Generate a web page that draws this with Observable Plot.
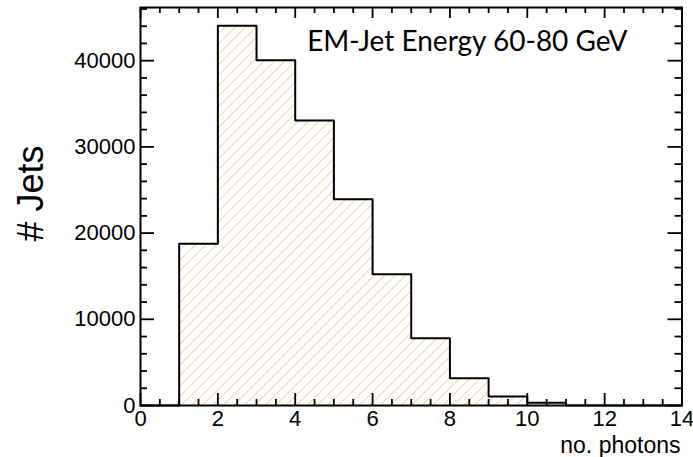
<!DOCTYPE html>
<html><head><meta charset="utf-8">
<script src="https://cdn.jsdelivr.net/npm/d3@7"></script>
<script src="https://cdn.jsdelivr.net/npm/@observablehq/plot@0.6"></script>
<style>body{margin:0;background:#fff} svg{display:block}</style>
</head><body><div id="chart"></div>
<script>
const binEdges = [0,1,2,3,4,5,6,7,8,9,10,11,12,13,14];
const binCounts = [0,18760,44050,40050,33060,23930,15230,7810,3170,1040,310,0,0,0];
const xMajorTicks = [0,2,4,6,8,10,12,14];
const xMinorTicks = [0.5,1,1.5,2.5,3,3.5,4.5,5,5.5,6.5,7,7.5,8.5,9,9.5,10.5,11,11.5,12.5,13,13.5];
const yMajorTicks = [0,10000,20000,30000,40000];
const yMinorTicks = [2000,4000,6000,8000,12000,14000,16000,18000,22000,24000,26000,28000,32000,34000,36000,38000,42000,44000,46000];
const yMax = 46170;
const title = "EM-Jet Energy 60-80 GeV";
const xLabel = "no. photons";
const yLabel = "# Jets";

const W = 693, H = 457, mL = 140, mR = 11.5, mT = 7, mB = 52;
const pw = W - mL - mR, ph = H - mT - mB;

const bins = binCounts.map((c, i) => ({x1: binEdges[i], x2: binEdges[i+1], n: c})).filter(d => d.n > 0);
const steps = binCounts.map((c, i) => ({x: binEdges[i], n: c})).concat([{x: binEdges[binEdges.length-1], n: 0}]);

const font = "'Liberation Sans', Arial, sans-serif";
const svg = Plot.plot({
  width: W, height: H,
  marginLeft: mL, marginRight: mR, marginTop: mT, marginBottom: mB,
  style: {fontFamily: font, fontSize: "22px", background: "#fff", color: "#000"},
  x: {domain: [0, 14], axis: null},
  y: {domain: [0, yMax], axis: null},
  marks: [
    Plot.rectY(bins, {x1: "x1", x2: "x2", y: "n", fill: "url(#hatch)"}),
    Plot.line(steps, {x: "x", y: "n", curve: "step-after", stroke: "#000", strokeWidth: 2}),
    Plot.axisX({ticks: xMajorTicks, tickSize: 0, tickPadding: 5, fontSize: 22, tickFormat: d => String(d), label: null}),
    Plot.axisY({ticks: yMajorTicks, tickSize: 0, tickPadding: 5, fontSize: 22, tickFormat: d => String(d), label: null}),
    Plot.tickX(xMajorTicks, {x: d => d, insetTop: ph - 12, stroke: "#000", strokeWidth: 1.8}),
    Plot.tickX(xMinorTicks, {x: d => d, insetTop: ph - 6, stroke: "#000", strokeWidth: 1.8}),
    Plot.tickX(xMajorTicks, {x: d => d, insetBottom: ph - 11, stroke: "#000", strokeWidth: 1.8}),
    Plot.tickX(xMinorTicks, {x: d => d, insetBottom: ph - 6, stroke: "#000", strokeWidth: 1.8}),
    Plot.tickY(yMajorTicks, {y: d => d, insetRight: pw - 14, stroke: "#000", strokeWidth: 1.8}),
    Plot.tickY(yMinorTicks, {y: d => d, insetRight: pw - 7, stroke: "#000", strokeWidth: 1.8}),
    Plot.tickY(yMajorTicks, {y: d => d, insetLeft: pw - 14, stroke: "#000", strokeWidth: 1.8}),
    Plot.tickY(yMinorTicks, {y: d => d, insetLeft: pw - 7, stroke: "#000", strokeWidth: 1.8}),
    Plot.frame({stroke: "#000", strokeWidth: 2}),
    Plot.text([title], {text: d => d, frameAnchor: "top-left", dx: 166.7, dy: 34.7, textAnchor: "start", lineAnchor: "middle", fontSize: 28, fontFamily: "Lato", fill: "#000"}),
    Plot.text([xLabel], {text: d => d, frameAnchor: "bottom-right", dx: -1.5, dy: 39.7, textAnchor: "end", lineAnchor: "middle", fontSize: 23, fill: "#000"}),
    Plot.text([yLabel], {text: d => d, frameAnchor: "left", dx: -109.5, dy: -13, rotate: -90, textAnchor: "middle", lineAnchor: "middle", fontSize: 36, fill: "#000"})
  ]
});

const ns = "http://www.w3.org/2000/svg";
const defs = document.createElementNS(ns, "defs");
const pat = document.createElementNS(ns, "pattern");
pat.setAttribute("id", "hatch");
pat.setAttribute("patternUnits", "userSpaceOnUse");
pat.setAttribute("width", "7.4");
pat.setAttribute("height", "7.4");
pat.setAttribute("patternTransform", "rotate(45)");
const ln = document.createElementNS(ns, "line");
ln.setAttribute("x1", "0"); ln.setAttribute("y1", "0");
ln.setAttribute("x2", "0"); ln.setAttribute("y2", "7.4");
ln.setAttribute("stroke", "#e9b06c");
ln.setAttribute("stroke-width", "1.1");
pat.appendChild(ln);
defs.appendChild(pat);
svg.insertBefore(defs, svg.firstChild);
document.getElementById("chart").appendChild(svg);
</script>
</body></html>
